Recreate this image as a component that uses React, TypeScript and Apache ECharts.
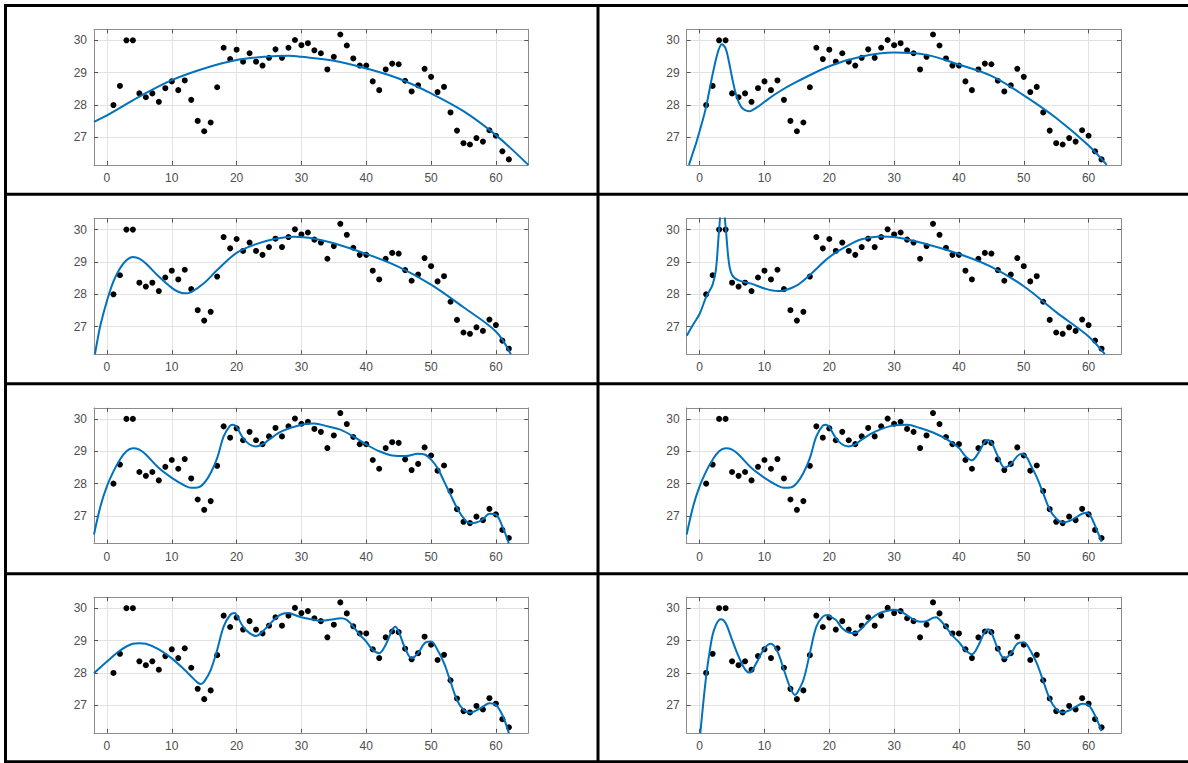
import React, { useEffect, useRef } from "react";
import * as echarts from "echarts";

// ---------- data ----------
const xValues = [1,2,3,4,5,6,7,8,9,10,11,12,13,14,15,16,17,18,19,20,21,22,23,24,25,26,27,28,29,30,31,32,33,34,35,36,37,38,39,40,41,42,43,44,45,46,47,48,49,50,51,52,53,54,55,56,57,58,59,60,61,62];
const yValues = [28.0,28.59,30.0,30.0,28.36,28.24,28.36,28.1,28.52,28.73,28.46,28.76,28.16,27.51,27.19,27.46,28.55,29.77,29.42,29.71,29.34,29.6,29.34,29.22,29.46,29.72,29.46,29.77,30.01,29.85,29.91,29.69,29.6,29.1,29.49,30.18,29.84,29.44,29.22,29.22,28.73,28.46,29.1,29.28,29.26,28.75,28.42,28.61,29.12,28.87,28.4,28.56,27.77,27.21,26.82,26.78,26.98,26.87,27.22,27.05,26.57,26.32];

const xTickValues = [0, 10, 20, 30, 40, 50, 60];
const yTickValues = [27, 28, 29, 30];
const xRange = [-2, 65];
const yRange = [26.15, 30.34];

// fitted curves ([x, y])
const fit1 = [[-2,27.48],[0,27.68],[5,28.26],[10,28.77],[15,29.13],[20,29.39],[25,29.5],[28,29.52],[30,29.49],[35,29.37],[40,29.13],[45,28.82],[50,28.36],[55,27.81],[60,27.07],[65,26.15]];
const fit2 = [[-1.65,26.15],[-1,26.55],[-0.5,26.85],[0,27.2],[0.5,27.55],[1,27.95],[1.5,28.45],[2,28.95],[2.5,29.4],[3,29.75],[3.4,29.88],[4,29.75],[4.5,29.35],[5,28.85],[5.5,28.4],[6,28.1],[6.5,27.92],[7,27.84],[7.6,27.81],[8,27.83],[9,27.95],[10,28.1],[12,28.38],[15,28.72],[20,29.2],[25,29.5],[30,29.62],[35,29.55],[40,29.25],[45,28.9],[50,28.3],[55,27.6],[60,26.75],[62.8,26.15]];
const fit3 = [[-1.85,26.15],[-1.5,26.55],[-1,27.05],[0,27.8],[1,28.4],[2,28.8],[3,29.05],[4,29.15],[5,29.1],[6,28.95],[8,28.55],[10,28.2],[11,28.08],[12,28.03],[13,28.07],[15,28.35],[17,28.75],[20,29.28],[23,29.55],[26,29.72],[29,29.78],[32,29.72],[35,29.58],[40,29.25],[45,28.85],[50,28.3],[55,27.6],[60,26.85],[62.3,26.15]];
const fit4 = [[-2,26.72],[-1,27.07],[0,27.4],[1,27.92],[1.5,28.1],[2,28.3],[2.5,28.75],[3,30.0],[3.5,31.0],[4,30.1],[4.5,29.0],[5,28.6],[6,28.43],[8,28.33],[10,28.18],[12,28.1],[13,28.12],[15,28.28],[17,28.6],[20,29.15],[23,29.52],[25,29.7],[28,29.79],[30,29.77],[35,29.55],[40,29.25],[45,28.85],[50,28.25],[55,27.45],[60,26.7],[62.5,26.15]];
const fit5 = [[-2,26.43],[-1,27.3],[0,27.92],[1,28.38],[2,28.74],[3,29.0],[4,29.09],[5,29.05],[6,28.9],[8,28.48],[10,28.18],[12,27.94],[13,27.87],[14,27.88],[15,28.02],[16,28.33],[17,28.79],[18,29.46],[19,29.79],[19.5,29.82],[20,29.75],[21,29.41],[22,29.21],[23,29.15],[24,29.21],[25,29.36],[27,29.62],[30,29.82],[32,29.86],[34,29.77],[36,29.67],[38,29.46],[40,29.21],[42,29.0],[44,28.87],[46,28.85],[48,28.92],[49,28.9],[50,28.74],[51,28.48],[52,28.07],[53,27.66],[54,27.25],[55,26.94],[56,26.78],[57,26.8],[58,26.9],[59,27.07],[60,27.04],[61,26.68],[62,26.15]];
const fit6 = [[-2,26.43],[-1,27.3],[0,27.92],[1,28.38],[2,28.74],[3,29.0],[4,29.09],[5,29.05],[6,28.9],[8,28.48],[10,28.18],[12,27.94],[13,27.87],[14,27.88],[15,28.02],[16,28.33],[17,28.79],[18,29.46],[19,29.79],[19.5,29.82],[20,29.75],[21,29.41],[22,29.21],[23,29.15],[24,29.21],[25,29.36],[27,29.6],[30,29.8],[32,29.82],[34,29.72],[36,29.58],[38,29.38],[40,29.1],[41,28.85],[42,28.72],[43,28.95],[44,29.3],[44.5,29.35],[45,29.28],[46,28.85],[47,28.5],[48,28.6],[49,28.85],[49.7,28.92],[50.5,28.8],[51,28.6],[52,28.2],[53,27.7],[54,27.2],[55,26.92],[56,26.8],[57,26.84],[58,26.95],[59,27.07],[59.7,27.1],[60.3,27.0],[61,26.7],[62,26.2]];
const fit7 = [[-2,27.99],[0,28.35],[2,28.69],[4,28.9],[5,28.92],[6,28.9],[8,28.73],[10,28.45],[12,28.09],[13,27.89],[14,27.7],[14.5,27.66],[15,27.73],[16,28.09],[17,28.71],[18,29.43],[19,29.79],[19.7,29.85],[20,29.79],[21,29.43],[22,29.23],[23,29.14],[24,29.28],[25,29.48],[26,29.69],[27,29.82],[28,29.85],[29,29.79],[30,29.72],[32,29.64],[33,29.61],[35,29.66],[36,29.69],[37,29.64],[38,29.43],[39,29.18],[40,28.97],[41,28.71],[42,28.61],[43,28.87],[44,29.33],[44.5,29.43],[45,29.28],[46,28.76],[47,28.45],[48,28.61],[49,28.92],[50,28.97],[51,28.71],[52,28.3],[53,27.73],[54,27.16],[55,26.86],[56,26.77],[57,26.84],[58,26.96],[59,27.06],[60,27.01],[61,26.7],[62,26.14]];
const fit8 = [[0.1,26.14],[0.5,26.96],[1,27.89],[1.5,28.61],[2,29.18],[2.5,29.48],[3,29.64],[3.3,29.66],[4,29.54],[5,29.02],[6,28.51],[7,28.11],[7.7,28.01],[8,28.04],[9,28.4],[10,28.76],[11,28.9],[12,28.66],[13,28.09],[14,27.53],[14.7,27.32],[15,27.37],[16,27.78],[17,28.61],[18,29.43],[19,29.74],[19.8,29.79],[20,29.76],[21,29.64],[22,29.38],[23,29.25],[24,29.23],[25,29.38],[26,29.59],[27,29.76],[28,29.87],[29,29.92],[30,29.95],[31,29.9],[32,29.78],[33,29.65],[34,29.58],[35,29.6],[36,29.7],[36.5,29.72],[37,29.65],[38,29.42],[39,29.15],[40,28.95],[41,28.7],[42,28.58],[43,28.85],[44,29.28],[44.5,29.35],[45,29.25],[46,28.75],[47,28.45],[48,28.6],[49,28.9],[50,28.95],[51,28.7],[52,28.3],[53,27.75],[54,27.2],[55,26.88],[56,26.78],[57,26.84],[58,26.95],[59,27.05],[60,27.0],[61,26.68],[62,26.2]];

const fits = [fit1, fit2, fit3, fit4, fit5, fit6, fit7, fit8];

// ---------- layout / style ----------
const COL_LEFT = [94, 686.7];
const PLOT_W = 434.3;
const ROW_TOP0 = 29.3;
const ROW_STEP = 189.3;
const PLOT_H = 135.6;
const FONT = "Liberation Sans, Arial, Helvetica, sans-serif";
const AXIS_COLOR = "#8c8c8c";
const GRID_COLOR = "#e2e2e2";
const LABEL_COLOR = "#4d4d4d";
const LINE_COLOR = "#0072BD";

function buildOption() {
  const grid: any[] = [];
  const xAxis: any[] = [];
  const yAxis: any[] = [];
  const series: any[] = [];
  const scatterData = xValues.map((x, i) => [x, yValues[i]]);

  fits.forEach((fit, i) => {
    const row = Math.floor(i / 2);
    const col = i % 2;
    grid.push({
      left: COL_LEFT[col],
      top: ROW_TOP0 + row * ROW_STEP,
      width: PLOT_W,
      height: PLOT_H,
      containLabel: false,
      show: true,
      backgroundColor: "#ffffff",
      borderWidth: 0,
    });
    const axisLine = { show: true, onZero: false, lineStyle: { color: AXIS_COLOR, width: 1 } };
    const tickX = { show: true, inside: true, length: 4, customValues: xTickValues, lineStyle: { color: "#555" } };
    const tickY = { show: true, inside: true, length: 4, customValues: yTickValues, lineStyle: { color: "#555" } };
    // bottom
    xAxis.push({
      type: "value", gridIndex: i, position: "bottom", min: xRange[0], max: xRange[1],
      axisLine, axisTick: tickX,
      axisLabel: { show: true, customValues: xTickValues, color: LABEL_COLOR, fontSize: 12, fontFamily: FONT, margin: 7 },
      splitLine: { show: true, lineStyle: { color: GRID_COLOR, width: 1 } },
    });
    // top
    xAxis.push({
      type: "value", gridIndex: i, position: "top", min: xRange[0], max: xRange[1],
      axisLine, axisTick: tickX, axisLabel: { show: false }, splitLine: { show: false },
    });
    // left
    yAxis.push({
      type: "value", gridIndex: i, position: "left", min: yRange[0], max: yRange[1],
      axisLine, axisTick: tickY,
      axisLabel: { show: true, customValues: yTickValues, color: LABEL_COLOR, fontSize: 12, fontFamily: FONT, margin: 7 },
      splitLine: { show: true, lineStyle: { color: GRID_COLOR, width: 1 } },
    });
    // right
    yAxis.push({
      type: "value", gridIndex: i, position: "right", min: yRange[0], max: yRange[1],
      axisLine, axisTick: tickY, axisLabel: { show: false }, splitLine: { show: false },
    });
    series.push({
      type: "scatter", xAxisIndex: 2 * i, yAxisIndex: 2 * i, data: scatterData,
      symbol: "circle", symbolSize: 6, itemStyle: { color: "#000000", opacity: 1 }, z: 2, silent: true,
    });
    series.push({
      type: "line", xAxisIndex: 2 * i, yAxisIndex: 2 * i, data: fit,
      showSymbol: false, smooth: 0.35, clip: true,
      lineStyle: { color: LINE_COLOR, width: 2 }, z: 3, silent: true,
    });
  });

  const bar = (x: number, y: number, w: number, h: number) => ({
    type: "rect", shape: { x, y, width: w, height: h }, style: { fill: "#000000" }, silent: true, z: 100,
  });
  const graphic = [
    bar(4, 4, 1184, 3),
    bar(4, 4, 3, 759),
    bar(596.5, 4, 3, 759),
    bar(4, 192.8, 1184, 3),
    bar(4, 382.3, 1184, 3),
    bar(4, 572.3, 1184, 3),
    bar(4, 760.3, 1184, 3),
  ];

  return {
    animation: false,
    backgroundColor: "#ffffff",
    grid, xAxis, yAxis, series, graphic,
  };
}

export default function App() {
  const ref = useRef<HTMLDivElement>(null);
  useEffect(() => {
    if (!ref.current) return;
    const chart = echarts.init(ref.current, undefined, { renderer: "svg" });
    chart.setOption(buildOption() as any);
    return () => chart.dispose();
  }, []);
  return (
    <div
      ref={ref}
      style={{ position: "fixed", left: 0, top: 0, width: 1188, height: 763, background: "#fff" }}
    />
  );
}
